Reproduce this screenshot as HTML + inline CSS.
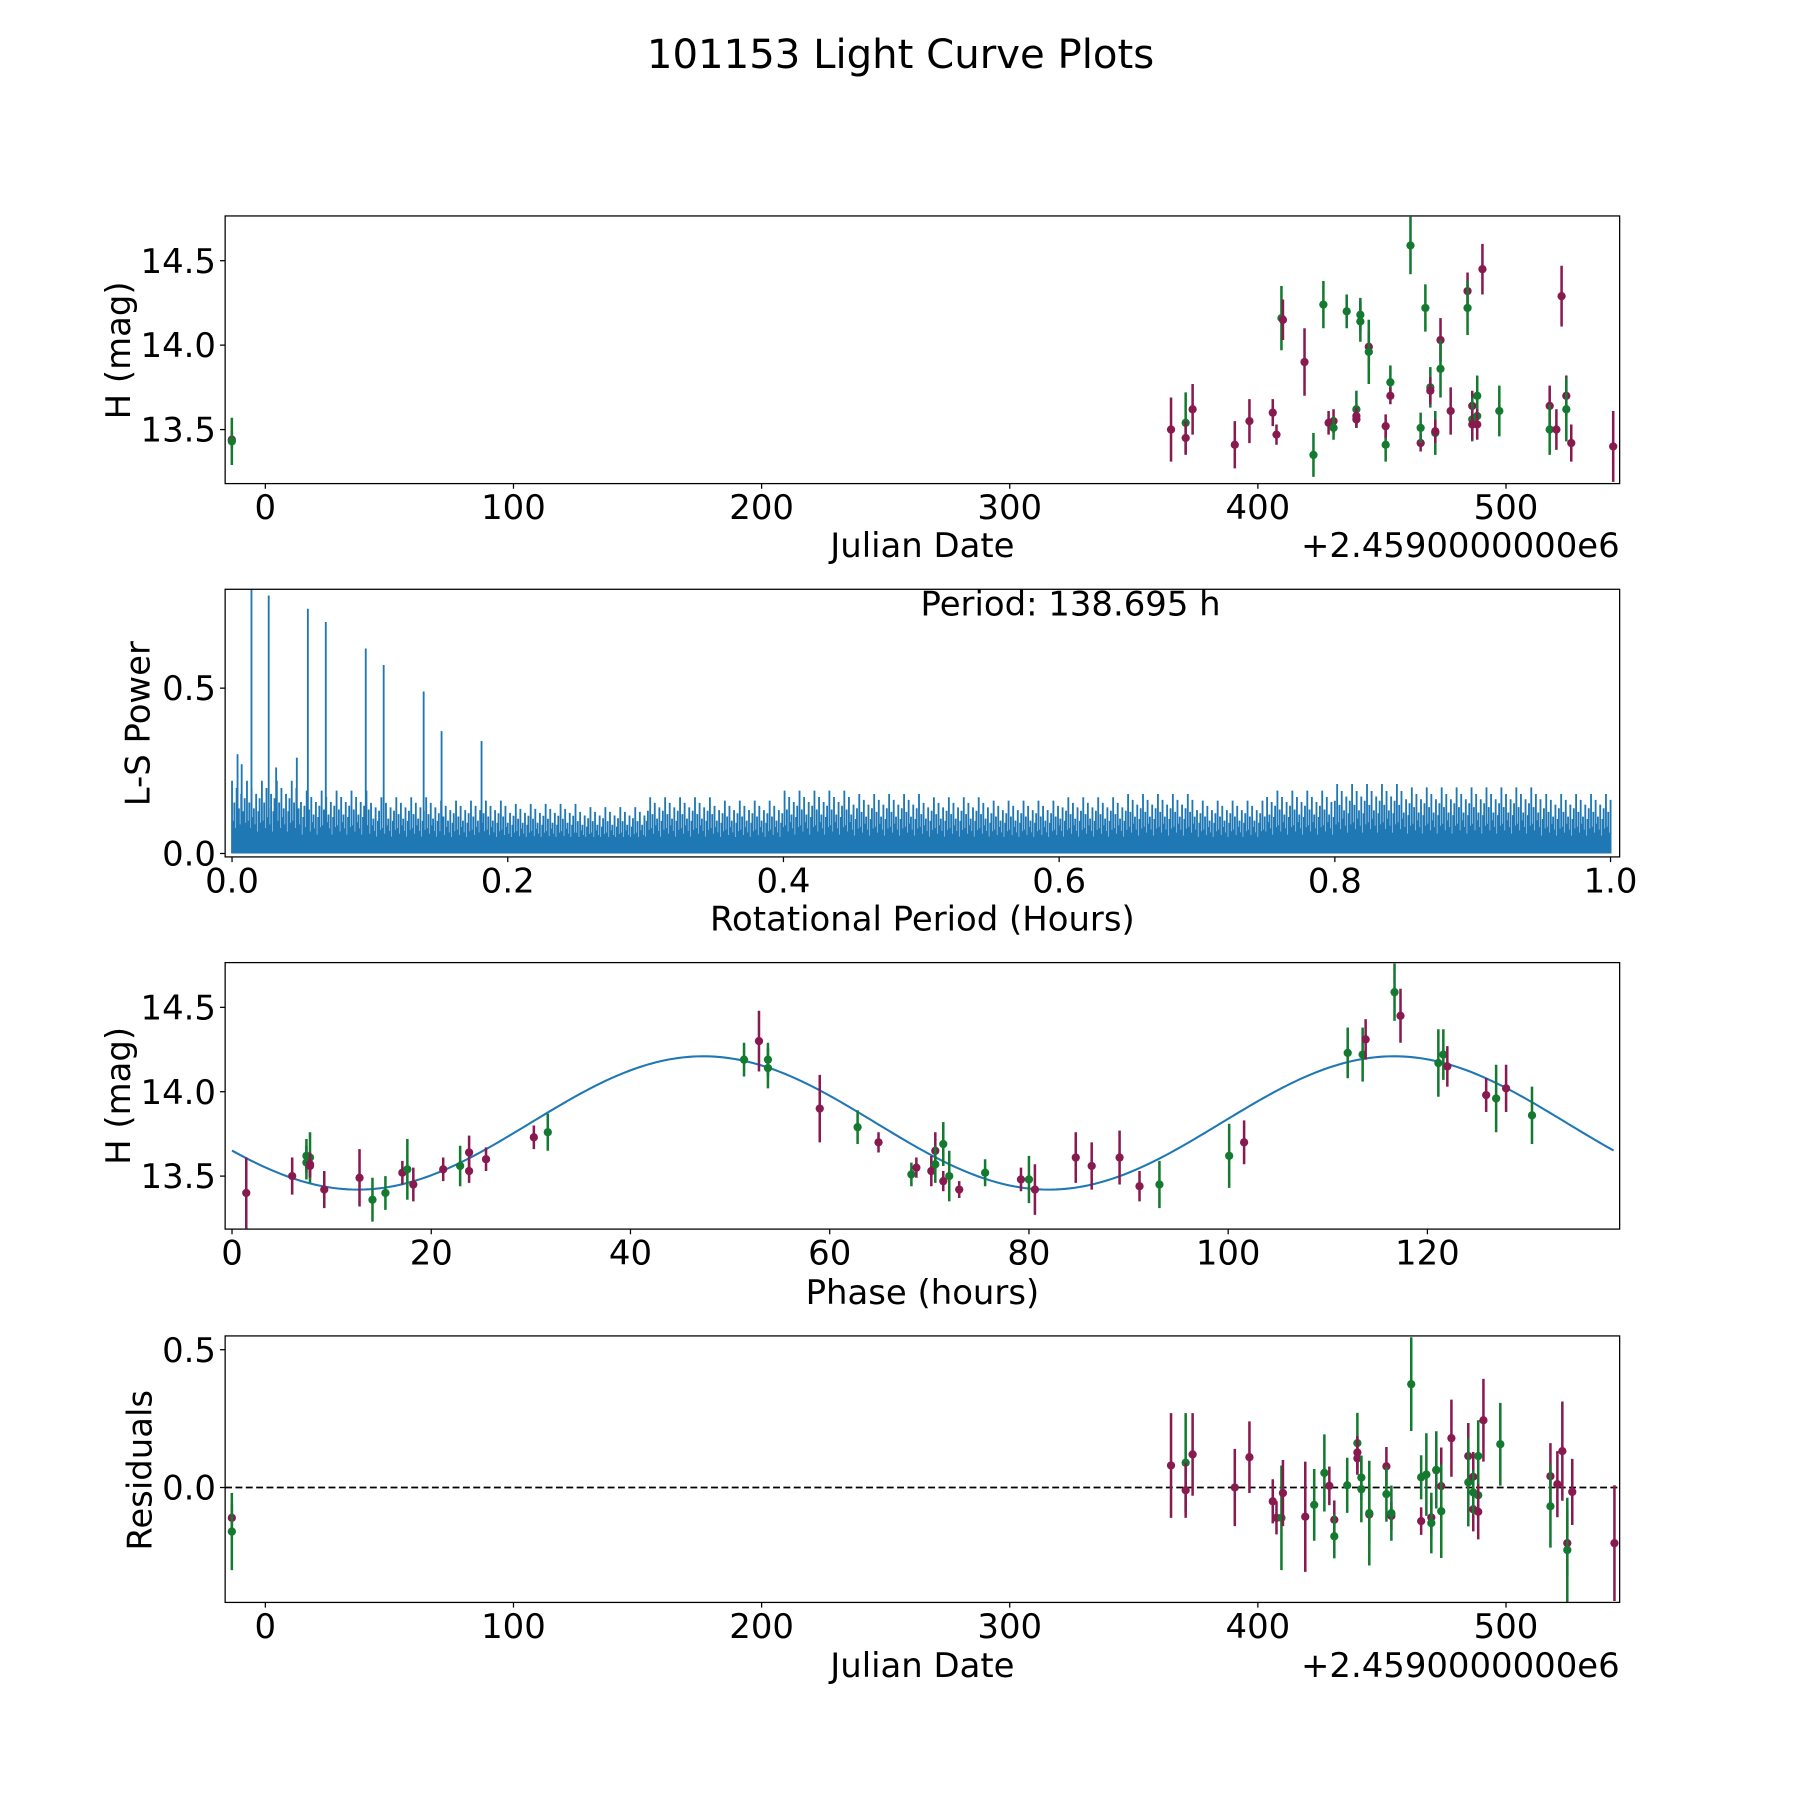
<!DOCTYPE html>
<html><head><meta charset="utf-8"><style>
html,body{margin:0;padding:0;background:#fff;}
svg{display:block;font-family:"DejaVu Sans","Liberation Sans",sans-serif;}
</style></head><body>
<svg id="fig" width="1800" height="1800" viewBox="0 0 1567 1567" xmlns="http://www.w3.org/2000/svg">
<rect width="1567" height="1567" fill="#fff"/>
<text x="784" y="59" font-size="35" text-anchor="middle">101153 Light Curve Plots</text>
</svg>
<script>
// ---- Light curve (panel 1) ----
const lcJD=[-13.5,-13.5,365.0,370.9,370.9,373.7,390.7,396.6,406.0,407.5,409.5,410.1,418.8,422.4,426.4,428.5,430.5,430.5,435.8,439.7,439.7,439.7,441.3,441.3,444.7,444.7,451.5,451.5,453.4,453.4,461.5,465.6,465.6,467.5,469.5,469.5,471.5,471.5,473.6,473.6,477.7,484.5,484.5,486.4,486.4,486.4,488.4,488.4,488.4,490.5,497.3,517.6,517.6,520.3,522.4,524.3,524.3,526.3,543.2];
const lcMag=[13.44,13.43,13.50,13.54,13.45,13.62,13.41,13.55,13.60,13.47,14.16,14.15,13.90,13.35,14.24,13.54,13.55,13.51,14.20,13.62,13.58,13.56,14.18,14.14,13.99,13.96,13.41,13.52,13.78,13.70,14.59,13.42,13.51,14.22,13.75,13.73,13.48,13.49,14.03,13.86,13.61,14.32,14.22,13.64,13.56,13.53,13.70,13.58,13.53,14.45,13.61,13.64,13.50,13.50,14.29,13.70,13.62,13.42,13.40];
const lcErr=[0.05,0.14,0.19,0.18,0.10,0.15,0.14,0.13,0.08,0.06,0.19,0.12,0.20,0.13,0.14,0.07,0.07,0.07,0.10,0.11,0.05,0.05,0.10,0.12,0.10,0.19,0.10,0.07,0.10,0.05,0.17,0.05,0.09,0.14,0.12,0.08,0.13,0.07,0.13,0.17,0.14,0.11,0.16,0.09,0.13,0.09,0.12,0.13,0.09,0.15,0.15,0.12,0.15,0.12,0.18,0.12,0.19,0.11,0.21];
const lcBand=["r","g","r","g","r","r","r","r","r","r","g","r","r","g","g","r","r","g","g","g","r","r","g","g","r","g","g","r","g","r","g","r","g","g","g","r","g","r","r","g","r","r","g","r","g","r","g","g","r","r","g","r","g","r","r","r","g","r","r"];
// ---- Periodogram (panel 2) ----
const peakPeriod=[0.004,0.007,0.0141,0.0266,0.032,0.047,0.055,0.068,0.097,0.110,0.139,0.152,0.181];
const peakPower=[0.30,0.27,0.82,0.78,0.26,0.29,0.74,0.70,0.62,0.57,0.49,0.37,0.34];
const noiseEnvelope=[0.22,0.19,0.17,0.16,0.15,0.14,0.17,0.16,0.19,0.18,0.17,0.16,0.17,0.18,0.16,0.19,0.21,0.20,0.20,0.18];
const noiseBase=0.05;
const bestPeriod="138.695";
// ---- Phased light curve (panel 3) ----
const phHours=[1.43,6.04,7.47,7.47,7.83,7.83,7.83,9.26,12.8,14.1,15.4,17.1,17.6,18.2,21.2,22.9,23.8,23.8,25.5,30.3,31.7,51.4,52.9,53.8,53.8,59.0,62.8,64.9,68.2,68.7,70.2,70.6,70.6,71.4,71.4,72.0,73.0,75.6,79.2,80.0,80.6,84.7,86.3,89.1,91.1,93.1,100.1,101.6,112.0,113.5,113.8,116.7,117.3,121.1,121.6,122.0,125.9,126.9,127.9,130.5];
const phMag=[13.40,13.50,13.62,13.58,13.61,13.57,13.56,13.42,13.49,13.36,13.40,13.52,13.54,13.45,13.54,13.56,13.64,13.53,13.60,13.73,13.76,14.19,14.30,14.19,14.14,13.90,13.79,13.70,13.51,13.55,13.53,13.65,13.57,13.47,13.69,13.50,13.42,13.52,13.48,13.48,13.42,13.61,13.56,13.61,13.44,13.45,13.62,13.70,14.23,14.22,14.31,14.59,14.45,14.17,14.22,14.15,13.98,13.96,14.02,13.86];
const phErr=[0.21,0.11,0.10,0.10,0.15,0.07,0.07,0.11,0.17,0.13,0.10,0.07,0.18,0.10,0.07,0.12,0.10,0.07,0.07,0.07,0.11,0.10,0.18,0.10,0.12,0.20,0.10,0.06,0.07,0.06,0.09,0.11,0.11,0.06,0.13,0.15,0.05,0.08,0.07,0.14,0.15,0.15,0.14,0.16,0.09,0.14,0.19,0.13,0.15,0.16,0.12,0.17,0.16,0.20,0.15,0.12,0.10,0.20,0.14,0.17];
const phBand=["r","r","g","g","g","r","r","r","r","g","g","r","g","r","r","g","r","r","r","r","g","g","r","g","g","r","g","r","g","r","r","r","g","r","g","g","r","g","r","g","r","r","r","r","r","g","g","r","g","g","r","g","r","g","g","r","r","g","r","g"];
const modelMean=13.815, modelAmp=0.395, modelPeakHour=47.3, modelCycle=69.35, modelSpan=138.695;
// ---- Residuals (panel 4) ----
const resJD=[-13.5,-13.5,365.0,370.9,370.9,373.7,390.7,396.6,406.0,407.5,409.5,410.1,419.1,422.7,426.8,428.8,430.8,430.8,436.0,440.1,440.1,440.1,441.7,441.7,444.9,444.9,451.8,451.8,453.8,453.8,461.8,465.8,465.8,467.9,469.9,469.9,471.9,471.9,473.9,473.9,478.0,484.8,484.8,486.8,486.8,486.8,488.8,488.8,488.8,490.9,497.7,517.9,517.9,520.7,522.7,524.7,524.7,526.7,543.7];
const resVal=[-0.11,-0.16,0.08,0.09,-0.01,0.12,0.00,0.11,-0.05,-0.11,-0.11,-0.02,-0.106,-0.063,0.053,0.006,-0.117,-0.177,0.008,0.161,0.127,0.106,0.036,-0.006,-0.098,-0.093,0.077,-0.024,-0.103,-0.093,0.375,-0.122,0.037,0.047,-0.109,-0.129,0.063,0.064,0.005,-0.086,0.179,0.114,0.019,0.039,-0.079,-0.018,0.114,-0.028,-0.088,0.244,0.157,0.041,-0.068,0.012,0.132,-0.202,-0.227,-0.016,-0.202];
const resErr=[0.05,0.14,0.19,0.18,0.10,0.15,0.14,0.13,0.08,0.06,0.19,0.12,0.20,0.13,0.14,0.07,0.07,0.08,0.10,0.11,0.06,0.06,0.08,0.12,0.11,0.19,0.07,0.10,0.05,0.10,0.17,0.05,0.08,0.15,0.07,0.11,0.07,0.14,0.14,0.17,0.14,0.12,0.16,0.09,0.08,0.08,0.13,0.08,0.10,0.15,0.15,0.12,0.15,0.12,0.18,0.12,0.19,0.12,0.21];
const resBand=["r","g","r","g","r","r","r","r","r","r","g","r","r","g","g","r","r","g","g","g","r","r","g","g","r","g","r","g","r","g","g","r","g","g","r","g","r","g","r","g","r","r","g","r","r","g","g","g","r","r","g","r","g","r","r","r","g","r","r"];

const NS="http://www.w3.org/2000/svg";
const svg=document.getElementById('fig');
const COL={r:"#881a50",g:"#137a30"};
const BLUE="#1f77b4";
const FS=29.5;
function mk(tag,attrs,parent){const e=document.createElementNS(NS,tag);for(const k in attrs)e.setAttribute(k,attrs[k]);(parent||svg).appendChild(e);return e;}
function lin(d0,d1,r0,r1){return v=>r0+(v-d0)/(d1-d0)*(r1-r0);}

function makePanel(id,y0,y1,xd,yd){
  const x0=196,x1=1410;
  const g=mk('g',{});
  
  
  const cp=mk('clipPath',{id:'clip-'+id},g);
  mk('rect',{x:x0,y:y0,width:x1-x0,height:y1-y0},cp);
  const plot=mk('g',{'clip-path':'url(#clip-'+id+')'},g);
  
  
  return {g,plot,x0,x1,y0,y1,sx:lin(xd[0],xd[1],x0,x1),sy:lin(yd[0],yd[1],y1,y0)};
}
function frame(P,id){
  const r=mk('rect',{x:P.x0,y:P.y0,width:P.x1-P.x0,height:P.y1-P.y0,fill:'none',stroke:'#000','stroke-width':1.1},P.g);
  
  
}
function xTicks(P,id,vals,fmt){
  vals.forEach(v=>{const x=P.sx(v);
    mk('line',{x1:x,x2:x,y1:P.y1,y2:P.y1+4.5,stroke:'#000','stroke-width':1.1},P.g);
    const t=mk('text',{x:x,y:P.y1+31,'font-size':FS,'text-anchor':'middle'},P.g);
    t.textContent=fmt(v);
    
    });
}
function yTicks(P,id,vals,fmt){
  vals.forEach(v=>{const y=P.sy(v);
    mk('line',{x1:P.x0-4.5,x2:P.x0,y1:y,y2:y,stroke:'#000','stroke-width':1.1},P.g);
    const t=mk('text',{x:P.x0-8,y:y+10.5,'font-size':FS,'text-anchor':'end'},P.g);
    t.textContent=fmt(v);
    
    });
}
function label(P,txt,x,y,rot,name,anchor){
  const t=mk('text',{x:x,y:y,'font-size':FS,'text-anchor':anchor||'middle'},P.g);
  if(rot)t.setAttribute('transform','rotate(-90 '+x+' '+y+')');
  t.textContent=txt;
  
  
}
function errPoints(P,id,xs,ys,es,bs){
  xs.forEach((xv,i)=>{const c=COL[bs[i]];const x=P.sx(xv);
    const l=mk('line',{x1:x,x2:x,y1:P.sy(ys[i]-es[i]),y2:P.sy(ys[i]+es[i]),stroke:c,'stroke-width':2.2},P.plot);
    
    
    const d=mk('circle',{cx:x,cy:P.sy(ys[i]),r:3.6,fill:c},P.plot);
    
    });
}
const f1=v=>v.toFixed(1), f0=v=>String(v);

// Panel 1
const P1=makePanel('light-curve',188,421,[-16.2,545.8],[13.18,14.765]);
errPoints(P1,'light-curve',lcJD,lcMag,lcErr,lcBand);
frame(P1,'light-curve');
xTicks(P1,'light-curve',[0,100,200,300,400,500],f0);
yTicks(P1,'light-curve',[13.5,14.0,14.5],f1);
label(P1,'Julian Date',803,485,false,'light-curve-x-axis-title');
label(P1,'+2.4590000000e6',1410,485,false,'light-curve-x-offset','end');
label(P1,'H (mag)',113,305,true,'light-curve-y-axis-title');

// Panel 2
const P2=makePanel('periodogram',513,746,[-0.005,1.0066],[-0.0104,0.799]);
(function(){
  let d='';
  const nb=noiseEnvelope.length, pat=[1,0.45,0.7,0.35,0.9,0.5,0.62,0.4,0.82,0.3,0.58,0.76,0.42];
  const base=P2.sy(0);
  const fill=mk('rect',{x:P2.sx(0),y:P2.sy(noiseBase),width:P2.sx(1)-P2.sx(0),height:base-P2.sy(noiseBase),fill:BLUE},P2.plot);
  
  
  for(let k=0;k<=1200;k++){const p=k/1200;const b=Math.min(nb-1,Math.floor(p*nb));
    const h=noiseEnvelope[b]*pat[k%pat.length];const x=P2.sx(p);
    d+='M'+x.toFixed(2)+' '+base+'V'+P2.sy(h).toFixed(2);}
  peakPeriod.forEach((p,i)=>{const x=P2.sx(p);d+='M'+x.toFixed(2)+' '+base+'V'+P2.sy(peakPower[i]).toFixed(2);});
  const path=mk('path',{d:d,stroke:BLUE,'stroke-width':1.6,fill:'none'},P2.plot);
  
  
})();
frame(P2,'periodogram');
xTicks(P2,'periodogram',[0,0.2,0.4,0.6,0.8,1.0],f1);
yTicks(P2,'periodogram',[0.0,0.5],f1);
label(P2,'Rotational Period (Hours)',803,810,false,'periodogram-x-axis-title');
label(P2,'L-S Power',130,630,true,'periodogram-y-axis-title');
label(P2,'Period: '+bestPeriod+' h',932,536,false,'period-annotation');

// Panel 3
const P3=makePanel('phased-curve',838,1070,[-0.69,139.3],[13.186,14.765]);
(function(){let d='';for(let i=0;i<=300;i++){const t=modelSpan*i/300;
  const v=modelMean+modelAmp*Math.cos(2*Math.PI*(t-modelPeakHour)/modelCycle);
  d+=(i?'L':'M')+P3.sx(t).toFixed(2)+' '+P3.sy(v).toFixed(2);}
  const m=mk('path',{d:d,stroke:BLUE,'stroke-width':1.8,fill:'none'},P3.plot);
  
  })();
errPoints(P3,'phased-curve',phHours,phMag,phErr,phBand);
frame(P3,'phased-curve');
xTicks(P3,'phased-curve',[0,20,40,60,80,100,120],f0);
yTicks(P3,'phased-curve',[13.5,14.0,14.5],f1);
label(P3,'Phase (hours)',803,1135,false,'phased-curve-x-axis-title');
label(P3,'H (mag)',113,954,true,'phased-curve-y-axis-title');

// Panel 4
const P4=makePanel('residuals',1163,1395,[-16.2,545.8],[-0.417,0.55]);
(function(){const z=mk('line',{x1:P4.x0,x2:P4.x1,y1:P4.sy(0),y2:P4.sy(0),stroke:'#000','stroke-width':1.6,'stroke-dasharray':'6,3'},P4.plot);
  
  })();
errPoints(P4,'residuals',resJD,resVal,resErr,resBand);
frame(P4,'residuals');
xTicks(P4,'residuals',[0,100,200,300,400,500],f0);
yTicks(P4,'residuals',[0.0,0.5],f1);
label(P4,'Julian Date',803,1460,false,'residuals-x-axis-title');
label(P4,'+2.4590000000e6',1410,1460,false,'residuals-x-offset','end');
label(P4,'Residuals',132,1280,true,'residuals-y-axis-title');
</script>
</body></html>
